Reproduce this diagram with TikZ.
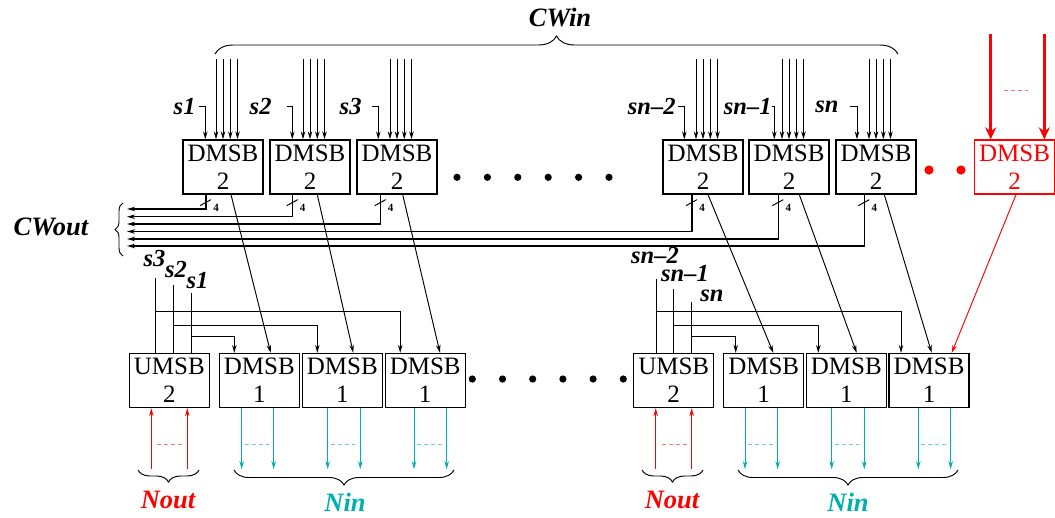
\documentclass[tikz,border=0pt]{standalone}
\usepackage{fontspec}
\setmainfont{Liberation Serif}
\usetikzlibrary{arrows.meta,calc,decorations.pathreplacing}
\definecolor{nincol}{RGB}{0,175,175}
\tikzset{
  msb/.style={draw,line width=1.3pt,minimum width=80pt,minimum height=54pt,inner sep=0pt,align=center,font=\fontsize{25}{28}\selectfont},
  lbl/.style={font=\fontsize{24.5}{24.5}\selectfont\bfseries\itshape,inner sep=0pt},
  big/.style={font=\fontsize{26.5}{26.5}\selectfont\bfseries\itshape},
  brc/.style={decorate,decoration={brace,amplitude=#1}},
  bus/.style={line width=1.3pt},
  four/.style={font=\fontsize{11}{11}\selectfont\bfseries,inner sep=0pt}
}
\begin{document}
\begin{tikzpicture}[x=1pt,y=-1pt,line width=0.95pt,>={Stealth[length=8pt,width=4.5pt]}]
\useasboundingbox (0,0) rectangle (1055,517);
% top row
\foreach \n/\x in {t1/223,t2/310,t3/397,tn2/703,tn1/789,tn/876}
  \node[msb] (\n) at (\x,167) {DMSB\\2};
\node[msb,red] (tr) at (1014.5,167) {DMSB\\2};
% bottom row
\foreach \n/\x/\m/\i in {ua/169.3/U/2,da1/259.3/D/1,da2/342.3/D/1,da3/425.2/D/1,ub/673.7/U/2,db1/763.7/D/1,db2/846.3/D/1,db3/929/D/1}
  \node[msb] (\n) at (\x,380.5) {\m MSB\\\i};
% CWin
\foreach \n in {t1,t2,t3,tn2,tn1,tn}
  \foreach \dx in {-7,0,7.3,14.5}
    \draw[->] ($(\n.north)+(\dx,-80)$) -- ($(\n.north)+(\dx,0)$);
\foreach \n/\s/\lb/\st/\dx in {t1/s1/-27/-24/-17.7,t2/s2/-38/-23.3/-17.7,t3/s3/-35/-25.3/-18.7,tn2/sn--2/-27/-25/-18.7,tn1/sn--1/-17/-17.3/-14.7,tn/sn/-37/-26/-19}
{
  \node[lbl,anchor=east] (l\n) at ($(\n.north)+(\lb,-33)$) {\s};
  \draw[->] ($(\n.north)+(\st,-33)$) -| ($(\n.north)+(\dx,0)$);
}
% CWout
\foreach \n/\dx/\y in {t1/-17/209,t2/-17.3/216.7,t3/-16.3/224,tn2/-11/231.5,tn1/-10.7/239,tn/-11.7/246}
{
  \coordinate (o\n) at (127,\y);
  \draw[bus,->] ($(\n.south)+(\dx,0)$) |- (o\n);
  \draw ($(\n.south)+(\dx-6,11)$) -- ($(\n.south)+(\dx+5,5)$);
  \node[four] at ($(\n.south)+(\dx+10,13)$) {4};
}
\foreach \na/\pa/\nb/\pb in {t1/8/da1/11.4,t2/7.3/da2/11,t3/5.7/da3/14.8,tn2/5/db1/9.6,tn1/10.3/db2/10.4,tn/8.3/db3/2.7}
  \draw[->] ($(\na.south)+(\pa,0)$) -- ($(\nb.north)+(\pb,0)$);
\draw[->,red] ($(tr.south)+(1.5,0)$) -- ($(db3.north)+(22.7,0)$);
% select lines into UMSB / DMSB1
\foreach \m/\i/\s/\dx/\h/\y/\tg/\lx/\ly/\e in {ua/1/s3/-14.3/278/311/da3/154.5/266/-25,
  ua/2/s2/4/285/325/da2/176/277/-25,ua/3/s1/21.7/293/336/da1/197.5/288/-25,
  ub/4/sn--2/-17.7/279/311/db3/655/263/-28,ub/5/sn--1/-0.4/289/325/db2/685/281/-28,
  ub/6/sn/18/302/336/db1/712/301/-28}
{
  \node[lbl,anchor=base] (sel\i) at (\lx,\ly) {\s};
  \coordinate (f\i) at ($(\m.north)+(\dx,0)$);
  \draw (f\i |- 0,\h) -- (f\i);
  \draw[->] (f\i |- 0,\y) -| ($(\tg.north)+(\e,0)$);
}
% Nout / Nin
\foreach \n in {ua,ub}
{
  \draw[->,red] ($(\n.south)+(-18,61)$) -- ($(\n.south)+(-18,0)$);
  \draw[->,red] ($(\n.south)+(18,61)$) -- ($(\n.south)+(18,0)$);
  \draw[red!55,dash pattern=on 4pt off 3pt] ($(\n.south)+(-12,36)$) -- ($(\n.south)+(13,36)$);
}
\foreach \n/\pa/\pb in {da1/-17.6/14.4,da2/-14.6/18,da3/-11.2/21.5,db1/-18.7/14,db2/-14.6/18,db3/-10.7/21.7}
{
  \draw[->,nincol] ($(\n.south)+(\pa,0)$) -- ($(\n.south)+(\pa,61)$);
  \draw[->,nincol] ($(\n.south)+(\pb,0)$) -- ($(\n.south)+(\pb,61)$);
  \draw[nincol!60,dash pattern=on 4pt off 3pt] ($(\n.south)+(\pa+3,36)$) -- ($(\n.south)+(\pb-5,36)$);
}
% red inputs
\foreach \dx in {-23.8,29.8}
  \draw[red,line width=2.6pt,-{Stealth[length=12pt,width=11pt]}] ($(tr.north)+(\dx,-105)$) -- ($(tr.north)+(\dx,0)$);
\draw[red!55,dash pattern=on 4pt off 3pt] ($(tr.north)+(-10.5,-49)$) -- ($(tr.north)+(13.5,-49)$);
% braces
\draw[brc=18pt] (215,54) -- (898,54);
\draw[brc=8pt] (123,256) -- (123,203);
\foreach \pa/\pb in {199/138,703/642} \draw[brc=12pt] (\pa,470) -- (\pb,470);
\foreach \pa/\pb in {454/234,958/738} \draw[brc=15pt] (\pa,470) -- (\pb,470);
\node[big] (cwin) at (560,18) {CWin};
\node[big] (cwout) at (51,227) {CWout};
\node[big,red] (nout1) at (168,500) {Nout};
\node[big,red] (nout2) at (672,500) {Nout};
\node[big,nincol] (nin1) at (345,502) {Nin};
\node[big,nincol] (nin2) at (848,502) {Nin};
% dots
\foreach \i in {0,...,5}
{
  \fill (457+30.4*\i,177.3) circle (3.6pt);
  \fill (472.3+30.2*\i,379) circle (3.6pt);
}
\fill[red] (929,170) circle (4.6pt) (961,170) circle (4.6pt);
\end{tikzpicture}
\end{document}
